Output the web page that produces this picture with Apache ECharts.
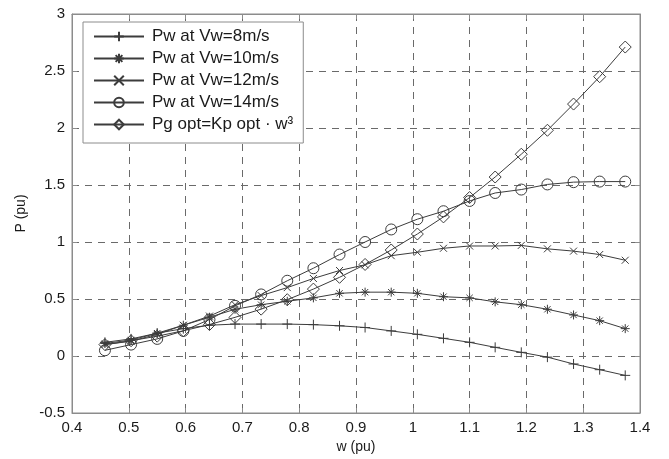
<!DOCTYPE html>
<html>
<head>
<meta charset="utf-8">
<script src="https://cdn.jsdelivr.net/npm/echarts@6/dist/echarts.min.js"></script>
<style>
  html, body { margin: 0; padding: 0; background: #fff; }
  #chart { width: 669px; height: 459px; }
</style>
</head>
<body>
<div id="chart"></div>
<script>
// rotor speed (pu) at each marker
const wValues = [0.458, 0.504, 0.550, 0.596, 0.642, 0.687, 0.733, 0.779, 0.825, 0.871, 0.916,
  0.962, 1.008, 1.054, 1.100, 1.145, 1.191, 1.237, 1.283, 1.329, 1.374]

// power curves (pu)
const pw8 = [0.12, 0.15, 0.20, 0.24, 0.27, 0.28, 0.28, 0.28, 0.275, 0.265, 0.25,
  0.22, 0.19, 0.155, 0.12, 0.076, 0.032, -0.01, -0.07, -0.12, -0.17]
const pw10 = [0.11, 0.14, 0.20, 0.27, 0.34, 0.41, 0.45, 0.48, 0.51, 0.55, 0.56,
  0.56, 0.55, 0.52, 0.51, 0.475, 0.45, 0.41, 0.36, 0.31, 0.24]
const pw12 = [0.10, 0.13, 0.19, 0.27, 0.35, 0.45, 0.53, 0.60, 0.68, 0.75, 0.80,
  0.88, 0.91, 0.945, 0.965, 0.965, 0.97, 0.94, 0.92, 0.89, 0.84]
const pw14 = [0.05, 0.10, 0.15, 0.22, 0.32, 0.44, 0.54, 0.66, 0.77, 0.89, 1.00,
  1.11, 1.20, 1.27, 1.36, 1.43, 1.46, 1.505, 1.525, 1.53, 1.53]
const pgOpt = [0.10, 0.134, 0.174, 0.221, 0.276, 0.339, 0.411, 0.494, 0.587, 0.69, 0.803,
  0.93, 1.07, 1.22, 1.39, 1.57, 1.77, 1.98, 2.21, 2.45, 2.71]

const seriesNames = ['Pw at Vw=8m/s', 'Pw at Vw=10m/s', 'Pw at Vw=12m/s', 'Pw at Vw=14m/s', 'Pg opt=Kp opt · w³']

const lineColor = '#3c3c3c'
const gridColor = '#6a6a6a'
const boxColor = '#8c8c8c'
const textColor = '#1a1a1a'
const font = 'Liberation Sans, Arial, sans-serif'

const plusPath = 'path://M5,0L5,10M0,5L10,5'
const crossPath = 'path://M0,0L10,10M0,10L10,0'
const starPath = 'path://M5,0L5,10M0,5L10,5M1.5,1.5L8.5,8.5M1.5,8.5L8.5,1.5'

function pairs (ys) {
  return wValues.map((w, i) => [w, ys[i]])
}

function makeSeries (name, ys, symbol, size) {
  return {
    name: name,
    type: 'line',
    data: pairs(ys),
    symbol: symbol,
    symbolSize: size,
    showAllSymbol: true,
    lineStyle: { color: lineColor, width: 1 },
    itemStyle: { color: 'transparent', borderColor: lineColor, borderWidth: 1 },
    emphasis: { disabled: true },
    z: 3
  }
}

const chart = echarts.init(document.getElementById('chart'))

const option = {
  animation: false,
  backgroundColor: '#fff',
  textStyle: { fontFamily: font },
  grid: {
    left: 72,
    right: 29,
    top: 14,
    bottom: 45,
    show: true,
    borderColor: boxColor,
    borderWidth: 1
  },
  legend: {
    orient: 'vertical',
    left: 83,
    top: 22,
    padding: [6, 10, 10, 10],
    itemWidth: 50,
    itemHeight: 12,
    itemGap: 5,
    backgroundColor: '#fff',
    borderColor: boxColor,
    borderWidth: 1,
    textStyle: { fontFamily: font, fontSize: 17, color: textColor, padding: [0, 0, 0, 3] },
    data: seriesNames
  },
  xAxis: [{
    type: 'value',
    min: 0.4,
    max: 1.4,
    interval: 0.1,
    name: 'w (pu)',
    nameLocation: 'middle',
    nameGap: 27,
    nameTextStyle: { fontFamily: font, fontSize: 14, color: textColor },
    axisLine: { show: true, onZero: false, lineStyle: { color: boxColor } },
    axisTick: { inside: true, length: 5, lineStyle: { color: boxColor } },
    axisLabel: { fontFamily: font, fontSize: 15, color: textColor, margin: 7 },
    splitLine: { show: true, lineStyle: { color: gridColor, type: [7, 6], width: 1 } }
  }, {
    type: 'value',
    position: 'top',
    min: 0.4,
    max: 1.4,
    interval: 0.1,
    axisLine: { show: true, onZero: false, lineStyle: { color: boxColor } },
    axisTick: { inside: true, length: 5, lineStyle: { color: boxColor } },
    axisLabel: { show: false },
    splitLine: { show: false }
  }],
  yAxis: [{
    type: 'value',
    min: -0.5,
    max: 3,
    interval: 0.5,
    name: 'P (pu)',
    nameLocation: 'middle',
    nameGap: 43,
    nameTextStyle: { fontFamily: font, fontSize: 14, color: textColor },
    axisLine: { show: true, onZero: false, lineStyle: { color: boxColor } },
    axisTick: { inside: true, length: 5, lineStyle: { color: boxColor } },
    axisLabel: { fontFamily: font, fontSize: 15, color: textColor, margin: 7 },
    splitLine: { show: true, lineStyle: { color: gridColor, type: [7, 6], width: 1 } }
  }, {
    type: 'value',
    position: 'right',
    min: -0.5,
    max: 3,
    interval: 0.5,
    axisLine: { show: true, onZero: false, lineStyle: { color: boxColor } },
    axisTick: { inside: true, length: 5, lineStyle: { color: boxColor } },
    axisLabel: { show: false },
    splitLine: { show: false }
  }],
  series: [
    makeSeries(seriesNames[0], pw8, plusPath, 10),
    makeSeries(seriesNames[1], pw10, starPath, 9),
    makeSeries(seriesNames[2], pw12, crossPath, 7),
    makeSeries(seriesNames[3], pw14, 'circle', 11),
    makeSeries(seriesNames[4], pgOpt, 'diamond', 12)
  ]
}

chart.setOption(option)
</script>
</body>
</html>
